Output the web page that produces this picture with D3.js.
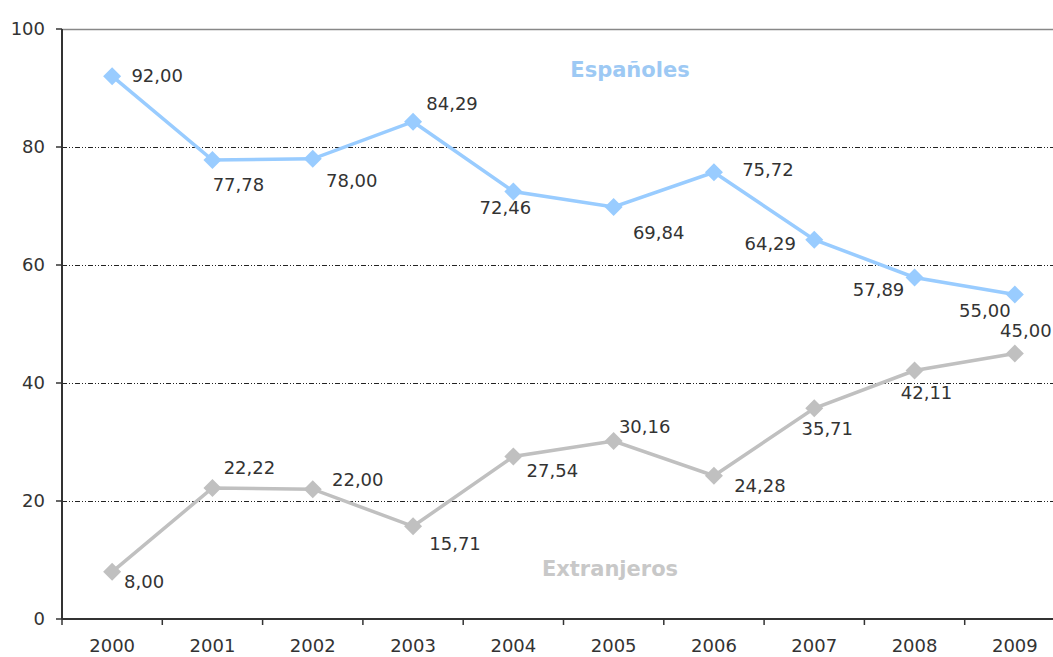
<!DOCTYPE html>
<html>
<head>
<meta charset="utf-8">
<script src="https://cdn.jsdelivr.net/npm/d3@7"></script>
<style>
  body { margin: 0; background: #fff; }
  svg text { font-family: 'DejaVu Sans', Verdana, sans-serif; }
</style>
</head>
<body>
<div id="chart"></div>
<script>
const years = ['2000', '2001', '2002', '2003', '2004', '2005', '2006', '2007', '2008', '2009'];
const espanoles = [92.00, 77.78, 78.00, 84.29, 72.46, 69.84, 75.72, 64.29, 57.89, 55.00];
const extranjeros = [8.00, 22.22, 22.00, 15.71, 27.54, 30.16, 24.28, 35.71, 42.11, 45.00];
const yTicks = [0, 20, 40, 60, 80, 100];

// label offsets (text centre relative to the marker)
const espLabelPos = [[45, -1], [26, 25], [39, 22], [39, -18], [-8, 16], [45, 26], [54, -3], [-44, 4], [-36, 12], [-30, 16]];
const extLabelPos = [[32, 10], [37, -20], [45, -10], [42, 17], [39, 14], [31, -14], [46, 10], [13, 20], [12, 22], [11, -23]];

const width = 1053,
    height = 657;

const plotLeft = 62, plotTop = 29, plotBottom = 619;

const svg = d3.select('#chart').append('svg')
    .attr('width', width)
    .attr('height', height);

const x = d3.scaleBand()
    .domain(years)
    .range([plotLeft, plotLeft + 10 * 100.3]);

const y = d3.scaleLinear()
    .domain([0, 100])
    .range([plotBottom, plotTop]);

const fmt = d3.formatLocale({ decimal: ',', thousands: '.', grouping: [3], currency: ['', ''] }).format('.2f');

// gridlines
svg.append('g')
    .selectAll('line')
    .data(yTicks.filter(d => d > 0 && d < 100))
    .enter().append('line')
    .attr('x1', plotLeft)
    .attr('x2', width)
    .attr('y1', d => Math.round(y(d)) + 0.5)
    .attr('y2', d => Math.round(y(d)) + 0.5)
    .attr('stroke', '#222')
    .attr('stroke-width', 1)
    .attr('stroke-dasharray', '5,2,1,2,1,2');

// top border
svg.append('line')
    .attr('x1', plotLeft).attr('x2', width)
    .attr('y1', y(100) + 0.5).attr('y2', y(100) + 0.5)
    .attr('stroke', '#888')
    .attr('stroke-width', 1.5);

// y axis
svg.append('line')
    .attr('x1', plotLeft).attr('x2', plotLeft)
    .attr('y1', y(100)).attr('y2', plotBottom)
    .attr('stroke', '#333')
    .attr('stroke-width', 2);

let yAxis = svg.append('g')
    .selectAll('g')
    .data(yTicks)
    .enter().append('g')
    .attr('transform', d => 'translate(0,' + y(d) + ')');

yAxis.append('line')
    .attr('x1', plotLeft - 6).attr('x2', plotLeft)
    .attr('stroke', '#333')
    .attr('stroke-width', 1.5);

yAxis.append('text')
    .attr('x', 45)
    .attr('dy', '0.35em')
    .attr('text-anchor', 'end')
    .style('font-size', '18px')
    .attr('fill', '#333')
    .text(d => d);

// x axis
svg.append('line')
    .attr('x1', plotLeft).attr('x2', width)
    .attr('y1', plotBottom).attr('y2', plotBottom)
    .attr('stroke', '#333')
    .attr('stroke-width', 2);

svg.append('g')
    .selectAll('line')
    .data(years)
    .enter().append('line')
    .attr('x1', d => x(d)).attr('x2', d => x(d))
    .attr('y1', plotBottom).attr('y2', plotBottom + 6)
    .attr('stroke', '#333')
    .attr('stroke-width', 1.5);

svg.append('g')
    .selectAll('text')
    .data(years)
    .enter().append('text')
    .attr('x', d => x(d) + x.bandwidth() / 2)
    .attr('y', 646)
    .attr('dy', '0.35em')
    .attr('text-anchor', 'middle')
    .style('font-size', '18px')
    .attr('fill', '#333')
    .text(d => d);

const cx = (d, i) => x(years[i]) + x.bandwidth() / 2;

let line = d3.line()
    .x((d, i) => cx(d, i))
    .y(d => y(d));

const diamond = 'M0,-9L9,0L0,9L-9,0Z';

function drawSeries(values, color, labelPos) {
    let g = svg.append('g');

    g.append('path')
        .datum(values)
        .attr('d', line)
        .attr('fill', 'none')
        .attr('stroke', color)
        .attr('stroke-width', 3.5);

    g.selectAll('path.marker')
        .data(values)
        .enter().append('path')
        .attr('class', 'marker')
        .attr('d', diamond)
        .attr('transform', (d, i) => 'translate(' + cx(d, i) + ',' + y(d) + ')')
        .attr('fill', color);

    g.selectAll('text')
        .data(values)
        .enter().append('text')
        .attr('x', (d, i) => cx(d, i) + labelPos[i][0])
        .attr('y', (d, i) => y(d) + labelPos[i][1])
        .attr('dy', '0.35em')
        .attr('text-anchor', 'middle')
        .style('font-size', '18px')
        .attr('fill', '#333')
        .text(d => fmt(d));
}

drawSeries(espanoles, '#99CCFF', espLabelPos);
drawSeries(extranjeros, '#C0C0C0', extLabelPos);

// series names
svg.append('text')
    .attr('x', 630)
    .attr('y', 77)
    .attr('text-anchor', 'middle')
    .style('font-size', '21px')
    .style('font-weight', 'bold')
    .attr('fill', '#9DC9F4')
    .text('Españoles');

svg.append('text')
    .attr('x', 610)
    .attr('y', 576)
    .attr('text-anchor', 'middle')
    .style('font-size', '21px')
    .style('font-weight', 'bold')
    .attr('fill', '#C8C8C8')
    .text('Extranjeros');
</script>
</body>
</html>
